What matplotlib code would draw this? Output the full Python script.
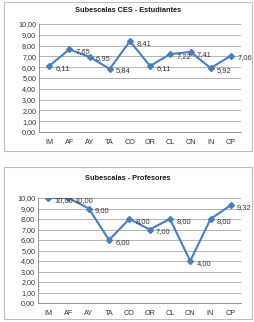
import matplotlib.pyplot as plt
from matplotlib.patches import Rectangle
from matplotlib.ticker import FuncFormatter

categories = ['IM', 'AF', 'AY', 'TA', 'CO', 'OR', 'CL', 'CN', 'IN', 'CP']
estudiantes = [6.11, 7.65, 6.95, 5.84, 8.41, 6.11, 7.22, 7.41, 5.92, 7.06]
profesores = [10.00, 10.00, 9.00, 6.00, 8.00, 7.00, 8.00, 4.00, 8.00, 9.32]
yticks = [0, 1, 2, 3, 4, 5, 6, 7, 8, 9, 10]

W, H = 255, 322
LINE = '#4A7EBB'
plt.rcParams['font.family'] = ['Liberation Sans', 'DejaVu Sans']
fig = plt.figure(figsize=(W / 100, H / 100), dpi=100)


def coma(v, pos=None):
    return f"{v:.2f}".replace('.', ',')


def panel(frame, plot, title, title_y, values):
    # marco del gráfico
    fx0, fy0, fx1, fy1 = frame
    fig.patches.append(Rectangle((fx0 / W, 1 - fy1 / H), (fx1 - fx0) / W, (fy1 - fy0) / H,
                                 transform=fig.transFigure, fill=False,
                                 edgecolor='#BFBFBF', linewidth=0.8))
    fig.text((fx0 + fx1) / 2 / W, 1 - title_y / H, title, ha='center', va='center',
             fontsize=5.3, fontweight='bold', color='#1a1a1a')
    x0, y0, x1, y1 = plot
    ax = fig.add_axes([x0 / W, 1 - y1 / H, (x1 - x0) / W, (y1 - y0) / H])
    xs = list(range(len(categories)))
    ax.plot(xs, values, color=LINE, linewidth=1.5, marker='D', markersize=3.0,
            markerfacecolor=LINE, markeredgecolor=LINE, zorder=3)
    for x, v in zip(xs, values):
        ax.annotate(coma(v), (x, v), xytext=(4.5, -1.5), textcoords='offset points',
                    ha='left', va='center', fontsize=5.4, color='#333333', zorder=4)
    ax.set_xlim(-0.5, len(categories) - 0.5)
    ax.set_ylim(0, 10)
    ax.set_yticks(yticks)
    ax.yaxis.set_major_formatter(FuncFormatter(coma))
    ax.set_xticks(xs)
    ax.set_xticklabels(categories)
    ax.grid(axis='y', color='#A6A6A6', linewidth=0.6)
    ax.set_axisbelow(True)
    for s in ['top', 'right']:
        ax.spines[s].set_visible(False)
    ax.spines['left'].set_color('#868686')
    ax.spines['bottom'].set_color('#868686')
    ax.spines['left'].set_linewidth(0.6)
    ax.spines['bottom'].set_linewidth(0.6)
    ax.tick_params(axis='y', labelsize=5.2, colors='#333333', length=0, pad=2)
    ax.tick_params(axis='x', labelsize=5.2, colors='#333333', length=0, pad=5)
    return ax


panel((4, 2, 252, 151), (39, 24, 241, 132), 'Subescalas CES - Estudiantes', 11, estudiantes)
panel((4, 167, 252, 319), (38, 198, 241, 303), 'Subescalas - Profesores', 178, profesores)

fig.savefig('out.png', dpi=100)
